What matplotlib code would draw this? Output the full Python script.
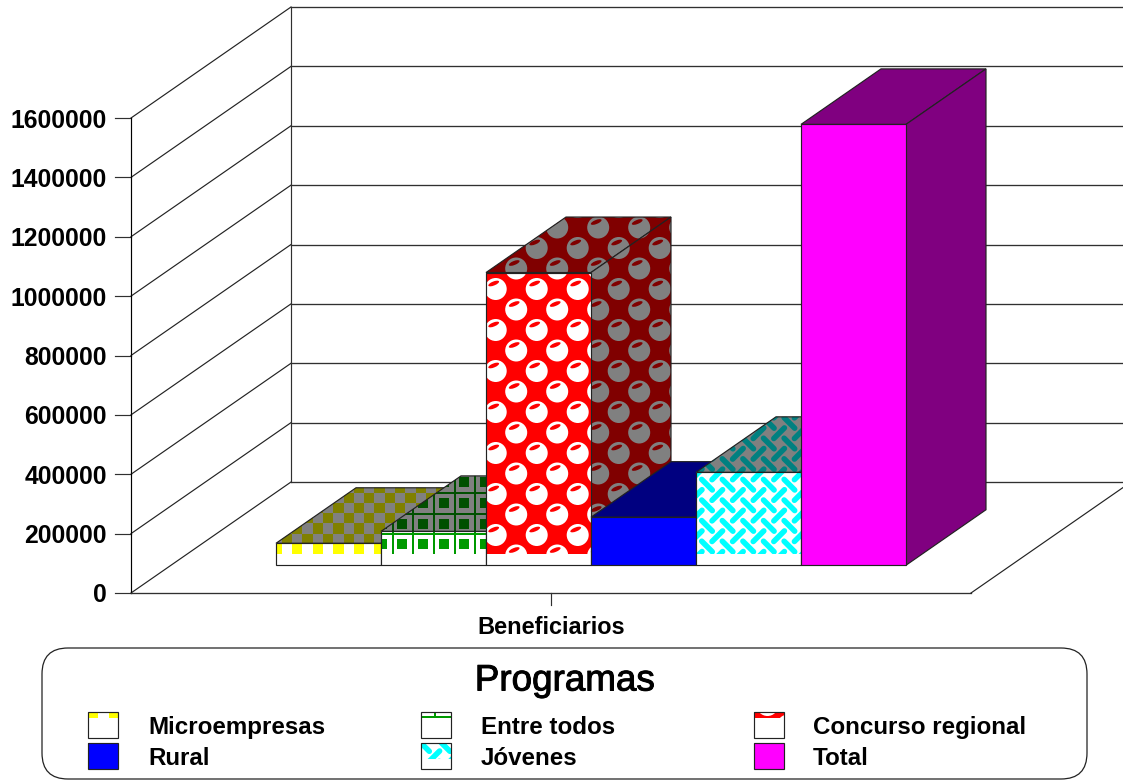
# imports
import matplotlib
matplotlib.use('Agg')
import matplotlib.patheffects as pe
import matplotlib.pyplot as plt
from matplotlib.lines import Line2D
from matplotlib.patches import Circle, Ellipse, FancyBboxPatch, Polygon, Rectangle
from matplotlib.transforms import Affine2D

programs = ['Microempresas', 'Entre todos', 'Concurso regional', 'Rural', 'Jóvenes', 'Total']
beneficiaries = [74000, 114000, 986000, 162000, 313000, 1485000]
axis_ticks = [0, 200000, 400000, 600000, 800000, 1000000, 1200000, 1400000, 1600000]
category = 'Beneficiarios'
legend_title = 'Programas'

WIDTH, HEIGHT = 1123, 780
VALUE_PER_PX = 200000 / 59.375
SLOT_PX = 105
ORIGIN_X, ORIGIN_Y = 131, 593
WALL_DX = 160 / SLOT_PX  # oblique offset of the back wall, in slots
WALL_DV = 111 * VALUE_PER_PX  # same offset, in value units
EDGE = '#222222'
FONT = 'Liberation Sans'

fig = plt.figure(figsize=(WIDTH / 100, HEIGHT / 100), dpi=100)
ax = fig.add_axes([0, 0, 1, 1])
ax.set_xlim(-ORIGIN_X / SLOT_PX, (WIDTH - ORIGIN_X) / SLOT_PX)
ax.set_ylim((ORIGIN_Y - HEIGHT) * VALUE_PER_PX, ORIGIN_Y * VALUE_PER_PX)
ax.axis('off')

# fill textures and legend are laid out in screen pixels, y going down
px = Affine2D().scale(1, -1).translate(0, HEIGHT)


def project(x, value, depth=0.0):
    return x + depth * WALL_DX, value + depth * WALL_DV


def line(points, color=EDGE, lw=0.85, transform=None):
    xs, ys = zip(*points)
    ax.add_line(Line2D(xs, ys, color=color, lw=lw, zorder=2,
                       transform=transform or ax.transData, solid_capstyle='projecting'))


def clipped(artist, clip):
    ax.add_artist(artist)
    artist.set_clip_path(clip)
    artist.set_zorder(2)


def checker(clip, color, box, x0=292.0, y0=544.0, cell=10.3):
    left, top, right, bottom = box
    i_min, i_max = int((left - x0) / cell) - 2, int((right - x0) / cell) + 2
    j_min, j_max = int((top - y0) / cell) - 2, int((bottom - y0) / cell) + 2
    for i in range(i_min, i_max):
        for j in range(j_min, j_max):
            if (i + j) % 2 == 0:
                clipped(Rectangle((x0 + i * cell, y0 + j * cell), cell, cell, fc=color, lw=0, transform=px), clip)


def squares(clip, color, box, line_color=None, x0=397.3, y0=539.3, period=20.6):
    left, top, right, bottom = box
    i_min, i_max = int((left - x0) / period) - 2, int((right - x0) / period) + 2
    j_min, j_max = int((top - y0) / period) - 2, int((bottom - y0) / period) + 2
    line_color = line_color or color
    for i in range(i_min, i_max):
        for j in range(j_min, j_max):
            x, y = x0 + i * period, y0 + j * period
            clipped(Rectangle((x, y), 10, 10, fc=color, lw=0, transform=px), clip)
            clipped(Rectangle((x - 5.6, y - 6), 2, period, fc=line_color, lw=0, transform=px), clip)
            clipped(Rectangle((x - 5.6, y - 6), period, 2, fc=line_color, lw=0, transform=px), clip)


def bubbles(clip, bg_hole, accent, box, x0=495.7, y0=289.0, period=41.0):
    left, top, right, bottom = box
    i_min, i_max = int((left - x0) / period) - 2, int((right - x0) / period) + 2
    j_min, j_max = int((top - y0) / period) - 2, int((bottom - y0) / period) + 2
    for i in range(i_min, i_max):
        for j in range(j_min, j_max):
            for dx, dy in [(0, 0), (period / 2, period / 2)]:
                x, y = x0 + i * period + dx, y0 + j * period + dy
                clipped(Circle((x, y), 11, fc=bg_hole, lw=0, transform=px), clip)
                clipped(Ellipse((x - 2, y - 5.5), 11.5, 4, angle=-22, fc=accent, lw=0, transform=px), clip)


def weave(clip, color, box, x0=707.0, y0=484.7, period=20.6):
    left, top, right, bottom = box
    half = 5.3
    i_min, i_max = int((left - x0) / period) - 2, int((right - x0) / period) + 2
    j_min, j_max = int((top - y0) / period) - 2, int((bottom - y0) / period) + 2
    for i in range(i_min, i_max):
        for j in range(j_min, j_max):
            x, y = x0 + i * period, y0 + j * period
            for xs, ys in [([x - half, x + half], [y - half, y + half]),
                           ([x + period / 2 - half, x + period / 2 + half],
                            [y + period / 2 + half, y + period / 2 - half])]:
                stroke = Line2D(xs, ys, color=color, lw=4.0, transform=px, solid_capstyle='round')
                clipped(stroke, clip)


# (front colour, front texture colour, shaded colour, shaded texture colour, painter)
bar_styles = [
    ('white', '#ffff00', '#808080', '#808000', checker),
    ('white', '#009a00', '#808080', '#005000', squares),
    ('#ff0000', 'white', '#800000', '#808080', bubbles),
    ('#0000ff', None, '#000080', None, None),
    ('white', '#00ffff', '#808080', '#008080', weave),
    ('#ff00ff', None, '#800080', None, None),
]
# the textured front faces stop short of the bar foot
TEXTURE_FOOT = 11.5 * VALUE_PER_PX


def paint(clip_points, painter, color, extra=None):
    poly = Polygon(clip_points, closed=True, fc='none', lw=0)
    ax.add_patch(poly)
    xy = [ax.transData.transform(p) for p in clip_points]
    xs = [p[0] for p in xy]
    ys = [HEIGHT - p[1] for p in xy]
    box = (min(xs), min(ys), max(xs), max(ys))
    if painter is squares:
        painter(poly, color, box, line_color=extra)
    elif painter is bubbles:
        painter(poly, color, extra, box)
    else:
        painter(poly, color, box)


def draw_bar(slot, value, style):
    front, front_tex, shade, shade_tex, painter = style
    d0, d1 = 0.25, 0.75
    front_pts = [project(slot, 0, d0), project(slot + 1, 0, d0), project(slot + 1, value, d0), project(slot, value, d0)]
    top_pts = [project(slot, value, d0), project(slot + 1, value, d0), project(slot + 1, value, d1), project(slot, value, d1)]
    side_pts = [project(slot + 1, 0, d0), project(slot + 1, 0, d1), project(slot + 1, value, d1), project(slot + 1, value, d0)]

    for pts, color, tex, accent in [(top_pts, shade, shade_tex, shade), (side_pts, shade, shade_tex, shade)]:
        ax.add_patch(Polygon(pts, closed=True, fc=color, lw=0, zorder=2))
        if painter:
            paint(pts, painter, tex, accent if painter is bubbles else None)
        ax.add_patch(Polygon(pts, closed=True, fc='none', ec=EDGE, lw=0.85, zorder=2))

    ax.add_patch(Polygon(front_pts, closed=True, fc='white' if painter else front, lw=0, zorder=2))
    if painter:
        band = [project(slot, TEXTURE_FOOT, d0), project(slot + 1, TEXTURE_FOOT, d0),
                project(slot + 1, value, d0), project(slot, value, d0)]
        ax.add_patch(Polygon(band, closed=True, fc=front, lw=0, zorder=2))
        paint(band, painter, front_tex, front if painter is bubbles else None)
    ax.add_patch(Polygon(front_pts, closed=True, fc='none', ec=EDGE, lw=0.85, zorder=2))


# walls and floor
top_value = axis_ticks[-1]
far_right = (WIDTH - ORIGIN_X) / SLOT_PX
for tick in axis_ticks:
    line([project(0, tick, 0), project(0, tick, 1)])
    back_x, back_v = project(0, tick, 1)
    line([(back_x, back_v), (far_right, back_v)], color='#303030', lw=0.95)
    line([(-16 / SLOT_PX, tick), (0, tick)], color='#303030')
    ax.text(-24 / SLOT_PX, tick - 2.5 * VALUE_PER_PX, str(tick), ha='right', va='center', fontsize=17.8,
            fontweight='bold', family=FONT, color='black', zorder=3)
line([project(0, 0, 0), project(0, top_value, 0)], color='black')
line([project(0, 0, 1), project(0, top_value, 1)], color='#303030')
line([project(0, 0, 0), project(8, 0, 0)], color='#303030', lw=0.95)
line([project(8, 0, 0), project(8, 0, 0.95)])
line([(4, 0), (4, -12 * VALUE_PER_PX)], color='#303030')
ax.text(4, -35 * VALUE_PER_PX, category, ha='center', va='center', fontsize=16.9,
        fontweight='bold', family=FONT, color='black', zorder=3)

for n, (value, style) in enumerate(zip(beneficiaries, bar_styles)):
    draw_bar(n + 1, value, style)

# legend
ax.add_patch(FancyBboxPatch((42, 648), 1045, 131, boxstyle='round,pad=0,rounding_size=26',
                            fc='white', ec=EDGE, lw=0.9, transform=px, zorder=2))
ax.text(564.5, 681, legend_title, ha='center', va='center', fontsize=26.5, family=FONT,
        color='black', transform=px, zorder=3,
        path_effects=[pe.withStroke(linewidth=0.7, foreground='black')])

swatch_x = [88, 421, 754]
swatch_y = [712, 743]
label_x = [148, 481, 813]
for n, name in enumerate(programs):
    col, row = n % 3, n // 3
    x, y = swatch_x[col], swatch_y[row]
    box = Rectangle((x, y), 30, 26, fc='white', lw=0, transform=px)
    ax.add_patch(box)
    box.set_zorder(2)
    if n == 0:
        clip = Rectangle((x, y), 30, 6, fc='none', lw=0, transform=px)
        ax.add_patch(clip)
        checker(clip, bar_styles[n][1], (x, y, x + 30, y + 6), x0=x, y0=y - 10.3 * 2)
    elif n == 1:
        clip = Rectangle((x, y), 30, 6, fc='none', lw=0, transform=px)
        ax.add_patch(clip)
        squares(clip, bar_styles[n][1], (x, y, x + 30, y + 6), x0=x + 18.6, y0=y + 10.4)
    elif n == 2:
        clip = Rectangle((x, y), 30, 6, fc=bar_styles[n][0], lw=0, transform=px)
        ax.add_patch(clip)
        clip.set_zorder(2)
        bubbles(clip, 'white', bar_styles[n][0], (x, y, x + 30, y + 6), x0=x + 13.5, y0=y - 7)
    elif n == 4:
        clip = Rectangle((x, y), 30, 16, fc='none', lw=0, transform=px)
        ax.add_patch(clip)
        weave(clip, bar_styles[n][1], (x, y, x + 30, y + 16), x0=x + 3, y0=y + 3)
    else:
        box.set_facecolor(bar_styles[n][0])
    ax.add_patch(Rectangle((x, y), 30, 26, fc='none', ec=EDGE, lw=0.85, transform=px, zorder=2))
    ax.text(label_x[col], y + 15.5, name, ha='left', va='center', fontsize=17.4, fontweight='bold',
            family=FONT, color='black', transform=px, zorder=3)

plt.savefig('out.png')
plt.close()
